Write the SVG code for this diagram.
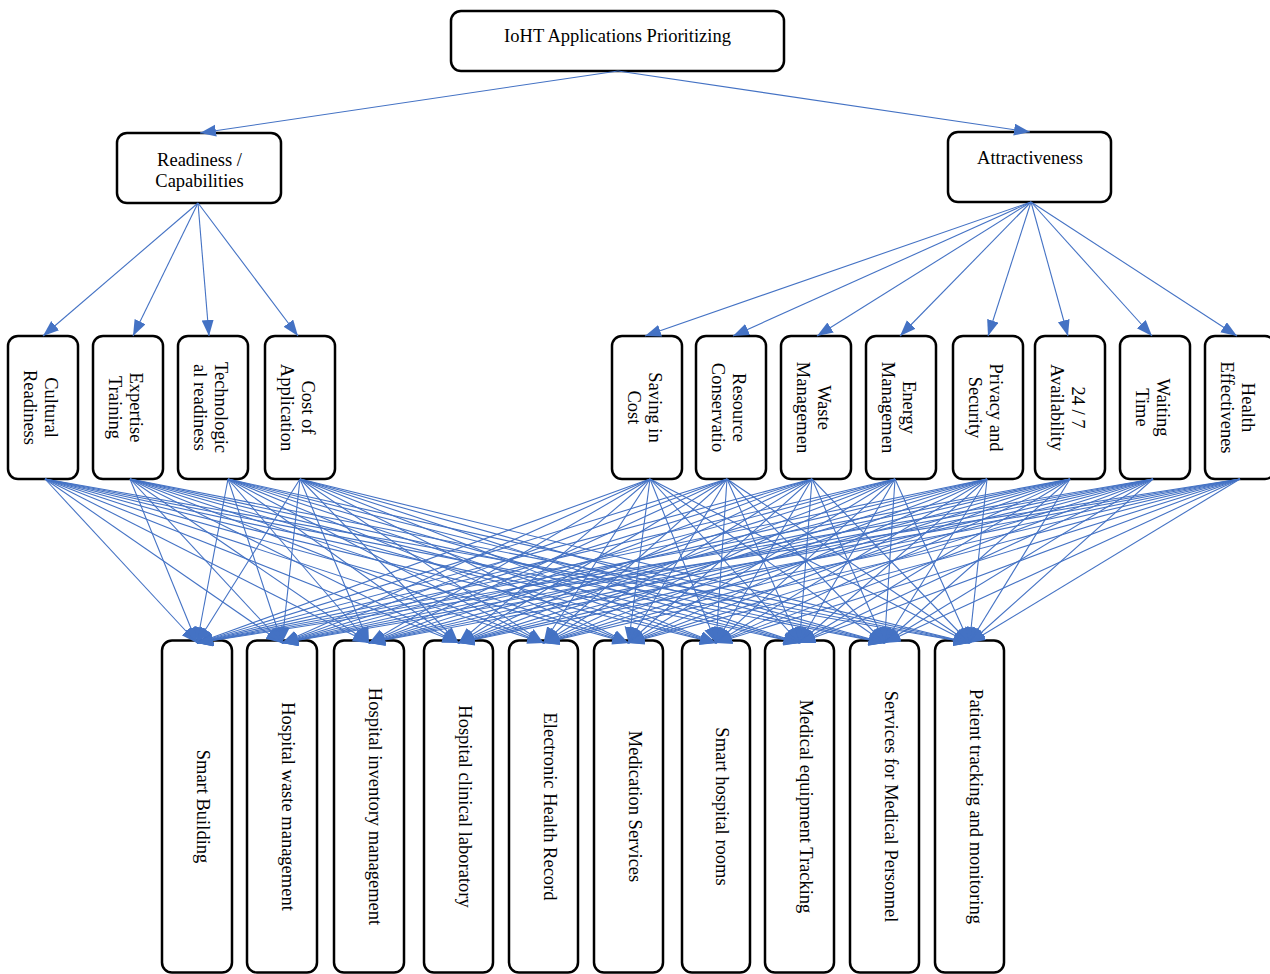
<svg xmlns="http://www.w3.org/2000/svg" width="1270" height="974" viewBox="0 0 1270 974">
<defs>
<marker id="arr" markerUnits="userSpaceOnUse" markerWidth="17" markerHeight="13" refX="16" refY="6" orient="auto">
<path d="M0,0 L16,6 L0,12 Z" fill="#4472C4"/>
</marker>
<style>
.box{fill:#fff;stroke:#000;stroke-width:2.5}
.t{font-family:"Liberation Serif","Times New Roman",serif;font-size:18.5px;fill:#000;text-anchor:middle}
.c line{stroke:#4472C4;stroke-width:1.1;marker-end:url(#arr)}
</style>
</defs>
<rect width="1270" height="974" fill="#fff"/>

<g id="n-root"><rect class="box" x="451" y="11" width="333" height="60" rx="10"/><text class="t" x="617.5" y="42">IoHT Applications Prioritizing</text></g>
<g id="n-readiness"><rect class="box" x="117" y="133" width="164" height="70" rx="10"/><text class="t" x="199.5" y="166">Readiness /</text><text class="t" x="199.5" y="187">Capabilities</text></g>
<g id="n-attract"><rect class="box" x="948" y="132" width="163" height="70" rx="10"/><text class="t" x="1030" y="164">Attractiveness</text></g>

<g id="c-cultural"><rect class="box" x="8" y="336" width="70" height="143" rx="10"/><g transform="translate(43,407.5) rotate(90)"><text class="t" y="-2">Cultural</text><text class="t" y="19.5">Readiness</text></g></g>
<g id="c-expertise"><rect class="box" x="93" y="336" width="70" height="143" rx="10"/><g transform="translate(128,407.5) rotate(90)"><text class="t" y="-2">Expertise</text><text class="t" y="19.5">Training</text></g></g>
<g id="c-tech"><rect class="box" x="178" y="336" width="70" height="143" rx="10"/><g transform="translate(213,407.5) rotate(90)"><text class="t" y="-2">Technologic</text><text class="t" y="19.5">al readiness</text></g></g>
<g id="c-cost"><rect class="box" x="265" y="336" width="70" height="143" rx="10"/><g transform="translate(300,407.5) rotate(90)"><text class="t" y="-2">Cost of</text><text class="t" y="19.5">Application</text></g></g>
<g id="c-saving"><rect class="box" x="612" y="336" width="70" height="143" rx="10"/><g transform="translate(647,407.5) rotate(90)"><text class="t" y="-2">Saving in</text><text class="t" y="19.5">Cost</text></g></g>
<g id="c-resource"><rect class="box" x="696" y="336" width="70" height="143" rx="10"/><g transform="translate(731,407.5) rotate(90)"><text class="t" y="-2">Resource</text><text class="t" y="19.5">Conservatio</text></g></g>
<g id="c-waste"><rect class="box" x="781" y="336" width="70" height="143" rx="10"/><g transform="translate(816,407.5) rotate(90)"><text class="t" y="-2">Waste</text><text class="t" y="19.5">Managemen</text></g></g>
<g id="c-energy"><rect class="box" x="866" y="336" width="70" height="143" rx="10"/><g transform="translate(901,407.5) rotate(90)"><text class="t" y="-2">Energy</text><text class="t" y="19.5">Managemen</text></g></g>
<g id="c-privacy"><rect class="box" x="953" y="336" width="70" height="143" rx="10"/><g transform="translate(988,407.5) rotate(90)"><text class="t" y="-2">Privacy and</text><text class="t" y="19.5">Security</text></g></g>
<g id="c-avail"><rect class="box" x="1035" y="336" width="70" height="143" rx="10"/><g transform="translate(1070,407.5) rotate(90)"><text class="t" y="-2">24 / 7</text><text class="t" y="19.5">Availability</text></g></g>
<g id="c-waiting"><rect class="box" x="1120" y="336" width="70" height="143" rx="10"/><g transform="translate(1155,407.5) rotate(90)"><text class="t" y="-2">Waiting</text><text class="t" y="19.5">Time</text></g></g>
<g id="c-health"><rect class="box" x="1205" y="336" width="70" height="143" rx="10"/><g transform="translate(1240,407.5) rotate(90)"><text class="t" y="-2">Health</text><text class="t" y="19.5">Effectivenes</text></g></g>

<g id="a-building"><rect class="box" x="162" y="640.5" width="70" height="332" rx="10"/><text class="t" transform="translate(197,806.5) rotate(90)">Smart Building</text></g>
<g id="a-waste"><rect class="box" x="247" y="640.5" width="70" height="332" rx="10"/><text class="t" transform="translate(282,806.5) rotate(90)">Hospital waste management</text></g>
<g id="a-inventory"><rect class="box" x="334" y="640.5" width="70" height="332" rx="10"/><text class="t" transform="translate(369,806.5) rotate(90)">Hospital inventory management</text></g>
<g id="a-lab"><rect class="box" x="424" y="640.5" width="69" height="332" rx="10"/><text class="t" transform="translate(458.5,806.5) rotate(90)">Hospital clinical laboratory</text></g>
<g id="a-ehr"><rect class="box" x="509" y="640.5" width="69" height="332" rx="10"/><text class="t" transform="translate(543.5,806.5) rotate(90)">Electronic Health Record</text></g>
<g id="a-med"><rect class="box" x="594" y="640.5" width="69" height="332" rx="10"/><text class="t" transform="translate(628.5,806.5) rotate(90)">Medication Services</text></g>
<g id="a-rooms"><rect class="box" x="682" y="640.5" width="68" height="332" rx="10"/><text class="t" transform="translate(716,806.5) rotate(90)">Smart hospital rooms</text></g>
<g id="a-equip"><rect class="box" x="765" y="640.5" width="69" height="332" rx="10"/><text class="t" transform="translate(799.5,806.5) rotate(90)">Medical equipment Tracking</text></g>
<g id="a-personnel"><rect class="box" x="850" y="640.5" width="69" height="332" rx="10"/><text class="t" transform="translate(884.5,806.5) rotate(90)">Services for Medical Personnel</text></g>
<g id="a-patient"><rect class="box" x="935" y="640.5" width="69" height="332" rx="10"/><text class="t" transform="translate(969.5,806.5) rotate(90)">Patient tracking and monitoring</text></g>

<g id="connectors" class="c">
<line x1="618" y1="71" x2="200" y2="133"/>
<line x1="618" y1="71" x2="1030" y2="132"/>
<line x1="198" y1="203" x2="43" y2="336"/>
<line x1="198" y1="203" x2="133" y2="336"/>
<line x1="198" y1="203" x2="209" y2="336"/>
<line x1="198" y1="203" x2="298" y2="336"/>
<line x1="1031" y1="202" x2="645" y2="336"/>
<line x1="1031" y1="202" x2="733" y2="336"/>
<line x1="1031" y1="202" x2="817" y2="336"/>
<line x1="1031" y1="202" x2="900" y2="336"/>
<line x1="1031" y1="202" x2="988" y2="336"/>
<line x1="1031" y1="202" x2="1068" y2="336"/>
<line x1="1031" y1="202" x2="1152" y2="336"/>
<line x1="1031" y1="202" x2="1237" y2="336"/>

<line x1="45" y1="479" x2="197" y2="643"/><line x1="45" y1="479" x2="282" y2="643"/><line x1="45" y1="479" x2="369" y2="643"/><line x1="45" y1="479" x2="458.5" y2="643"/><line x1="45" y1="479" x2="543.5" y2="643"/><line x1="45" y1="479" x2="628.5" y2="643"/><line x1="45" y1="479" x2="716" y2="643"/><line x1="45" y1="479" x2="799.5" y2="643"/><line x1="45" y1="479" x2="884.5" y2="643"/><line x1="45" y1="479" x2="969.5" y2="643"/>
<line x1="130" y1="479" x2="197" y2="643"/><line x1="130" y1="479" x2="282" y2="643"/><line x1="130" y1="479" x2="369" y2="643"/><line x1="130" y1="479" x2="458.5" y2="643"/><line x1="130" y1="479" x2="543.5" y2="643"/><line x1="130" y1="479" x2="628.5" y2="643"/><line x1="130" y1="479" x2="716" y2="643"/><line x1="130" y1="479" x2="799.5" y2="643"/><line x1="130" y1="479" x2="884.5" y2="643"/><line x1="130" y1="479" x2="969.5" y2="643"/>
<line x1="228" y1="479" x2="197" y2="643"/><line x1="228" y1="479" x2="282" y2="643"/><line x1="228" y1="479" x2="369" y2="643"/><line x1="228" y1="479" x2="458.5" y2="643"/><line x1="228" y1="479" x2="543.5" y2="643"/><line x1="228" y1="479" x2="628.5" y2="643"/><line x1="228" y1="479" x2="716" y2="643"/><line x1="228" y1="479" x2="799.5" y2="643"/><line x1="228" y1="479" x2="884.5" y2="643"/><line x1="228" y1="479" x2="969.5" y2="643"/>
<line x1="300" y1="479" x2="197" y2="643"/><line x1="300" y1="479" x2="282" y2="643"/><line x1="300" y1="479" x2="369" y2="643"/><line x1="300" y1="479" x2="458.5" y2="643"/><line x1="300" y1="479" x2="543.5" y2="643"/><line x1="300" y1="479" x2="628.5" y2="643"/><line x1="300" y1="479" x2="716" y2="643"/><line x1="300" y1="479" x2="799.5" y2="643"/><line x1="300" y1="479" x2="884.5" y2="643"/><line x1="300" y1="479" x2="969.5" y2="643"/>
<line x1="650" y1="479" x2="197" y2="643"/><line x1="650" y1="479" x2="282" y2="643"/><line x1="650" y1="479" x2="369" y2="643"/><line x1="650" y1="479" x2="458.5" y2="643"/><line x1="650" y1="479" x2="543.5" y2="643"/><line x1="650" y1="479" x2="628.5" y2="643"/><line x1="650" y1="479" x2="716" y2="643"/><line x1="650" y1="479" x2="799.5" y2="643"/><line x1="650" y1="479" x2="884.5" y2="643"/><line x1="650" y1="479" x2="969.5" y2="643"/>
<line x1="727" y1="479" x2="197" y2="643"/><line x1="727" y1="479" x2="282" y2="643"/><line x1="727" y1="479" x2="369" y2="643"/><line x1="727" y1="479" x2="458.5" y2="643"/><line x1="727" y1="479" x2="543.5" y2="643"/><line x1="727" y1="479" x2="628.5" y2="643"/><line x1="727" y1="479" x2="716" y2="643"/><line x1="727" y1="479" x2="799.5" y2="643"/><line x1="727" y1="479" x2="884.5" y2="643"/><line x1="727" y1="479" x2="969.5" y2="643"/>
<line x1="812" y1="479" x2="197" y2="643"/><line x1="812" y1="479" x2="282" y2="643"/><line x1="812" y1="479" x2="369" y2="643"/><line x1="812" y1="479" x2="458.5" y2="643"/><line x1="812" y1="479" x2="543.5" y2="643"/><line x1="812" y1="479" x2="628.5" y2="643"/><line x1="812" y1="479" x2="716" y2="643"/><line x1="812" y1="479" x2="799.5" y2="643"/><line x1="812" y1="479" x2="884.5" y2="643"/><line x1="812" y1="479" x2="969.5" y2="643"/>
<line x1="895" y1="479" x2="197" y2="643"/><line x1="895" y1="479" x2="282" y2="643"/><line x1="895" y1="479" x2="369" y2="643"/><line x1="895" y1="479" x2="458.5" y2="643"/><line x1="895" y1="479" x2="543.5" y2="643"/><line x1="895" y1="479" x2="628.5" y2="643"/><line x1="895" y1="479" x2="716" y2="643"/><line x1="895" y1="479" x2="799.5" y2="643"/><line x1="895" y1="479" x2="884.5" y2="643"/><line x1="895" y1="479" x2="969.5" y2="643"/>
<line x1="987" y1="479" x2="197" y2="643"/><line x1="987" y1="479" x2="282" y2="643"/><line x1="987" y1="479" x2="369" y2="643"/><line x1="987" y1="479" x2="458.5" y2="643"/><line x1="987" y1="479" x2="543.5" y2="643"/><line x1="987" y1="479" x2="628.5" y2="643"/><line x1="987" y1="479" x2="716" y2="643"/><line x1="987" y1="479" x2="799.5" y2="643"/><line x1="987" y1="479" x2="884.5" y2="643"/><line x1="987" y1="479" x2="969.5" y2="643"/>
<line x1="1070" y1="479" x2="197" y2="643"/><line x1="1070" y1="479" x2="282" y2="643"/><line x1="1070" y1="479" x2="369" y2="643"/><line x1="1070" y1="479" x2="458.5" y2="643"/><line x1="1070" y1="479" x2="543.5" y2="643"/><line x1="1070" y1="479" x2="628.5" y2="643"/><line x1="1070" y1="479" x2="716" y2="643"/><line x1="1070" y1="479" x2="799.5" y2="643"/><line x1="1070" y1="479" x2="884.5" y2="643"/><line x1="1070" y1="479" x2="969.5" y2="643"/>
<line x1="1153" y1="479" x2="197" y2="643"/><line x1="1153" y1="479" x2="282" y2="643"/><line x1="1153" y1="479" x2="369" y2="643"/><line x1="1153" y1="479" x2="458.5" y2="643"/><line x1="1153" y1="479" x2="543.5" y2="643"/><line x1="1153" y1="479" x2="628.5" y2="643"/><line x1="1153" y1="479" x2="716" y2="643"/><line x1="1153" y1="479" x2="799.5" y2="643"/><line x1="1153" y1="479" x2="884.5" y2="643"/><line x1="1153" y1="479" x2="969.5" y2="643"/>
<line x1="1240" y1="479" x2="197" y2="643"/><line x1="1240" y1="479" x2="282" y2="643"/><line x1="1240" y1="479" x2="369" y2="643"/><line x1="1240" y1="479" x2="458.5" y2="643"/><line x1="1240" y1="479" x2="543.5" y2="643"/><line x1="1240" y1="479" x2="628.5" y2="643"/><line x1="1240" y1="479" x2="716" y2="643"/><line x1="1240" y1="479" x2="799.5" y2="643"/><line x1="1240" y1="479" x2="884.5" y2="643"/><line x1="1240" y1="479" x2="969.5" y2="643"/>
</g>
</svg>
